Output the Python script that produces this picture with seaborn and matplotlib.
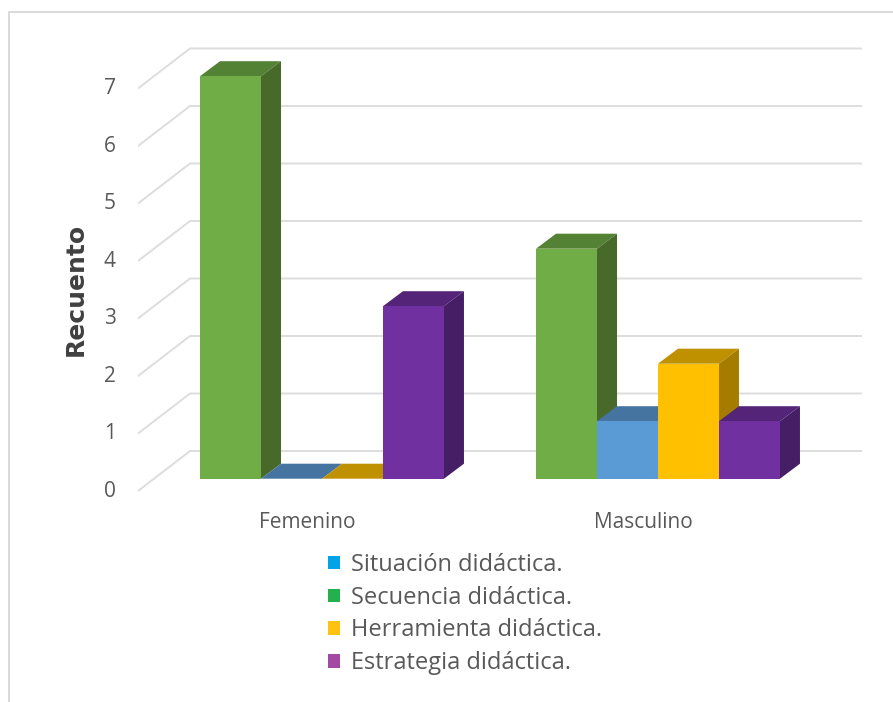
import pandas as pd
import seaborn as sns
import matplotlib.pyplot as plt
from matplotlib.lines import Line2D
from matplotlib.patches import Patch, Polygon, Rectangle

# data
generos = ["Femenino", "Masculino"]
secuencia = [7, 4]
situacion = [0, 1]
herramienta = [0, 2]
estrategia = [3, 1]
y_ticks = [0, 1, 2, 3, 4, 5, 6, 7]
leyenda = ["Situación didáctica.", "Secuencia didáctica.",
           "Herramienta didáctica.", "Estrategia didáctica."]

# colours: front, top, side
front = ["#70AD47", "#5B9BD5", "#FFC000", "#7030A0"]
top = ["#548235", "#44749F", "#BF9000", "#542478"]
side = ["#476A2B", "#3A6289", "#A67C00", "#461E66"]
leyenda_col = ["#00A2E8", "#22B14C", "#FFC20E", "#A349A4"]

W, H = 893, 702
sns.set_style("white")
plt.rcParams["font.family"] = ["Open Sans", "DejaVu Sans"]

df = pd.DataFrame({
    "genero": generos * 4,
    "tipo": ["sec"] * 2 + ["sit"] * 2 + ["her"] * 2 + ["est"] * 2,
    "n": secuencia + situacion + herramienta + estrategia,
})

fig = plt.figure(figsize=(W / 100, H / 100), dpi=100)
fig.patch.set_facecolor("white")
ax = fig.add_axes([138 / W, 1 - 495 / H, (862 - 138) / W, (495 - 40) / H])

sns.barplot(data=df, x="genero", y="n", hue="tipo",
            hue_order=["sec", "sit", "her", "est"], palette=front,
            saturation=1, width=0.726, gap=0, legend=False, ax=ax,
            linewidth=0, errorbar=None)

# axes limits so one category = 336 px and one unit = 57.5 px
ax.set_xlim((138 - 322) / 336, (862 - 322) / 336)
ax.set_ylim((478.7 - 495) / 57.5, (478.7 - 40) / 57.5)

# fake 3d depth of the bars, drawn left to right so each one hides the last
dx = 20 / 336
dy = 15 / 57.5
bars = [b for b in ax.patches if isinstance(b, Rectangle)]
order = sorted(range(len(bars)), key=lambda k: bars[k].get_x())
for rank, i in enumerate(order):
    b = bars[i]
    col = i // len(generos)
    x0, w, h = b.get_x(), b.get_width(), b.get_height()
    z = 3 + rank
    b.set_zorder(z + 0.2)
    ax.add_patch(Polygon([(x0, h), (x0 + dx, h + dy), (x0 + w + dx, h + dy), (x0 + w, h)],
                         facecolor=top[col], edgecolor="none", zorder=z))
    ax.add_patch(Polygon([(x0 + w, 0), (x0 + w + dx, dy), (x0 + w + dx, h + dy), (x0 + w, h)],
                         facecolor=side[col], edgecolor="none", zorder=z + 0.1))

# back wall grid with its left side going towards the viewer
x_wall = (190 - 322) / 336
x_front = (138 - 322) / 336
x_right = (862 - 322) / 336
up = 27.7 / 57.5
down = -12.3 / 57.5
for v in y_ticks:
    ax.plot([x_front, x_wall, x_right], [v + down, v + up, v + up],
            color="#DDDDDD", lw=1.4, zorder=1, solid_joinstyle="miter")

ax.set_xticks([i - 15 / 336 for i in range(len(generos))], generos)
ax.set_yticks([v + down + 0.04 for v in y_ticks], [str(v) for v in y_ticks])
ax.tick_params(axis="x", length=0, pad=12, labelsize=15, labelcolor="#595959")
ax.tick_params(axis="y", length=0, pad=16, labelsize=15, labelcolor="#595959")
ax.set_xlabel("")
ax.set_ylabel("")
ax.patch.set_alpha(0)
sns.despine(ax=ax, left=True, bottom=True)

fig.text(76 / W, 1 - 289 / H, "Recuento", rotation=90, ha="center", va="center",
         fontsize=18, fontweight="bold", color="#404040", family=["DejaVu Sans"])

handles = [Patch(facecolor=c, edgecolor="none") for c in leyenda_col]
fig.legend(handles, leyenda, loc="upper left", bbox_to_anchor=(328 / W, 1 - 553 / H),
           frameon=False, ncol=1, fontsize=17, labelcolor="#595959",
           handlelength=0.51, handleheight=0.51, handletextpad=0.47,
           labelspacing=0.37, borderpad=0, borderaxespad=0)

# picture frame
fig.add_artist(Line2D([9 / W, 9 / W, 1], [0, 1 - 12 / H, 1 - 12 / H], color="#D9D9D9", lw=1.4))

fig.savefig("out.png", dpi=100)
